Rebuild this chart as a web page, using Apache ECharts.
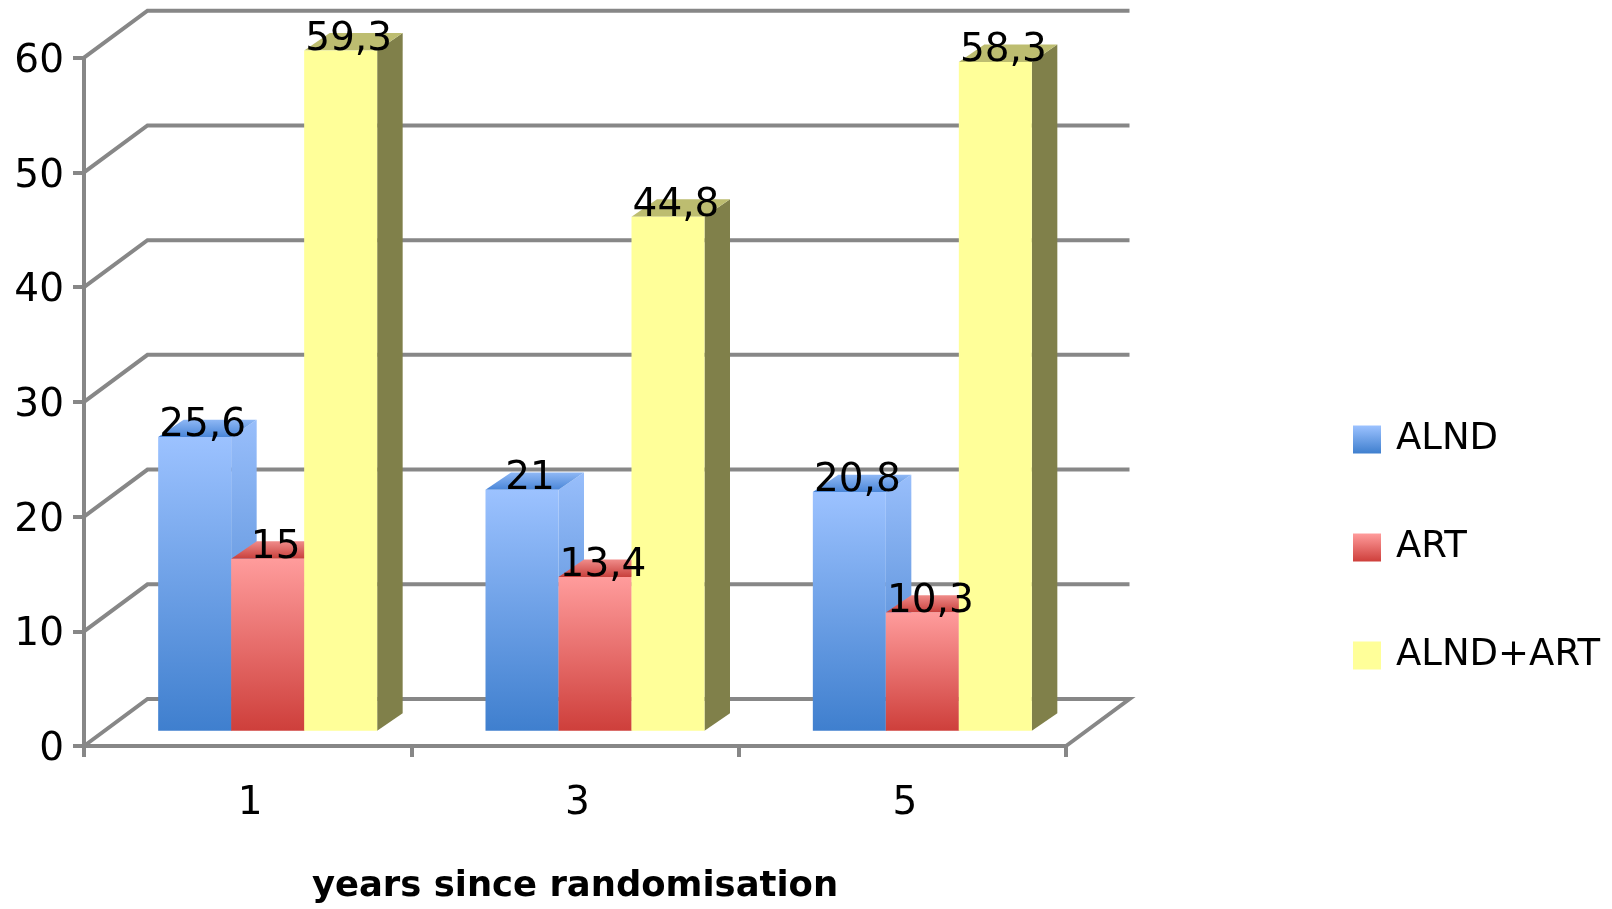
<!DOCTYPE html>
<html>
<head>
<meta charset="utf-8">
<style>html,body{margin:0;padding:0;background:#fff}#c{width:1612px;height:909px}</style>
<script src="https://cdn.jsdelivr.net/npm/echarts@6/dist/echarts.min.js"></script>
</head>
<body>
<div id="c"></div>
<script>
const categories = ['1', '3', '5'];
const alnd = [25.6, 21, 20.8];
const art = [15, 13.4, 10.3];
const alndArt = [59.3, 44.8, 58.3];
const gridTicks = [0, 10, 20, 30, 40, 50, 60];

const FONT = '"DejaVu Sans"';
const FS = 39;
const AXIS = '#878787';
const LINE_W = 4;
const WALL = [63.5, -47];
const FLOOR = [20, -15.3];
const DEPTH = [25.5, -17.4];
const BAR_W = 73;
const lg = (a, b) => new echarts.graphic.LinearGradient(0, 0, 0, 1, [{offset: 0, color: a}, {offset: 1, color: b}]);

const looks = [
  {front: lg('#9CC2FF', '#3F7FCE'), side: lg('#98BEFB', '#3F7DCA'), top: lg('#8FB8F5', '#4A86D8'), slot: -1},
  {front: lg('#FF9C9C', '#CE3F3B'), side: lg('#F49292', '#C43C38'), top: lg('#F08C8A', '#C8403C'), slot: 0},
  {front: '#FFFF99', side: '#80804A', top: '#BDBD70', slot: 1}
];

function barSeries(name, values, look, order) {
  return {
    name, type: 'custom',
    data: values.map((v, i) => [i, v]),
    encode: {x: 0, y: 1},
    itemStyle: {color: look.front},
    renderItem(params, api) {
      const top = api.coord([api.value(0), api.value(1)]);
      const base = api.coord([api.value(0), 0]);
      const x0 = top[0] + FLOOR[0] + look.slot * BAR_W - BAR_W / 2;
      const x1 = x0 + BAR_W;
      const yt = top[1] + FLOOR[1];
      const yb = base[1] + FLOOR[1];
      const [dx, dy] = DEPTH;
      const poly = (points, fill, z2) => ({type: 'polygon', shape: {points}, style: {fill}, z2});
      return {
        type: 'group',
        children: [
          poly([[x1, yb], [x1 + dx, yb + dy], [x1 + dx, yt + dy], [x1, yt]], look.side, order * 3 + 1),
          poly([[x0, yt], [x1, yt], [x1 + dx, yt + dy], [x0 + dx, yt + dy]], look.top, order * 3 + 2),
          poly([[x0, yb], [x1, yb], [x1, yt], [x0, yt]], look.front, order * 3 + 3),
          {
            type: 'text', z2: 50,
            style: {
              text: String(api.value(1)).replace('.', ','),
              x: (x0 + x1) / 2 + 8, y: yt - 11,
              fill: '#000', font: FS + 'px ' + FONT,
              align: 'center', verticalAlign: 'middle'
            }
          }
        ]
      };
    }
  };
}

const wallSeries = {
  name: 'wall', type: 'custom',
  data: gridTicks.map(v => [0, v]),
  encode: {x: 0, y: 1},
  silent: true,
  renderItem(params, api) {
    const p = api.coord([0, api.value(1)]);
    const band = api.size([1, 0])[0];
    const left = p[0] - band / 2;
    const right = left + band * categories.length;
    const pts = [[left, p[1]], [left + WALL[0], p[1] + WALL[1]], [right + WALL[0], p[1] + WALL[1]]];
    if (api.value(1) === 0) pts.push([right, p[1]]);
    return {
      type: 'polyline', z2: 0,
      shape: {points: pts},
      style: {stroke: AXIS, lineWidth: LINE_W, fill: null, lineJoin: 'miter'}
    };
  }
};

const chart = echarts.init(document.getElementById('c'), null, {renderer: 'canvas'});
chart.setOption({
  animation: false,
  backgroundColor: '#fff',
  textStyle: {fontFamily: FONT},
  grid: {left: 84, right: 546, top: 57.7, bottom: 163, containLabel: false},
  legend: {
    orient: 'vertical', left: 1348, top: 416,
    itemWidth: 28, itemHeight: 28, itemGap: 71,
    icon: 'rect',
    data: ['ALND', 'ART', 'ALND+ART'],
    textStyle: {fontSize: 37, fontFamily: FONT, color: '#000', padding: [0, 0, 0, 10]}
  },
  xAxis: {
    type: 'category', data: categories, boundaryGap: true,
    axisLine: {show: true, lineStyle: {color: AXIS, width: LINE_W}},
    axisTick: {show: true, length: 11, lineStyle: {color: AXIS, width: LINE_W}},
    axisLabel: {fontSize: FS, color: '#000', fontFamily: FONT, margin: 38, padding: [0, 0, 0, 5]},
    name: 'years since randomisation', nameLocation: 'middle', nameGap: 123,
    nameTextStyle: {fontSize: 35.4, fontWeight: 'bold', color: '#000', fontFamily: FONT},
    splitLine: {show: false}
  },
  yAxis: {
    type: 'value', min: 0, max: 60, interval: 10,
    axisLine: {show: true, lineStyle: {color: AXIS, width: LINE_W}},
    axisTick: {show: true, length: 11, lineStyle: {color: AXIS, width: LINE_W}},
    axisLabel: {fontSize: FS, color: '#000', fontFamily: FONT, margin: 20, verticalAlign: 'top', lineHeight: 8},
    splitLine: {show: false}
  },
  series: [
    wallSeries,
    barSeries('ALND', alnd, looks[0], 1),
    barSeries('ART', art, looks[1], 2),
    barSeries('ALND+ART', alndArt, looks[2], 3)
  ]
});
</script>
</body>
</html>
